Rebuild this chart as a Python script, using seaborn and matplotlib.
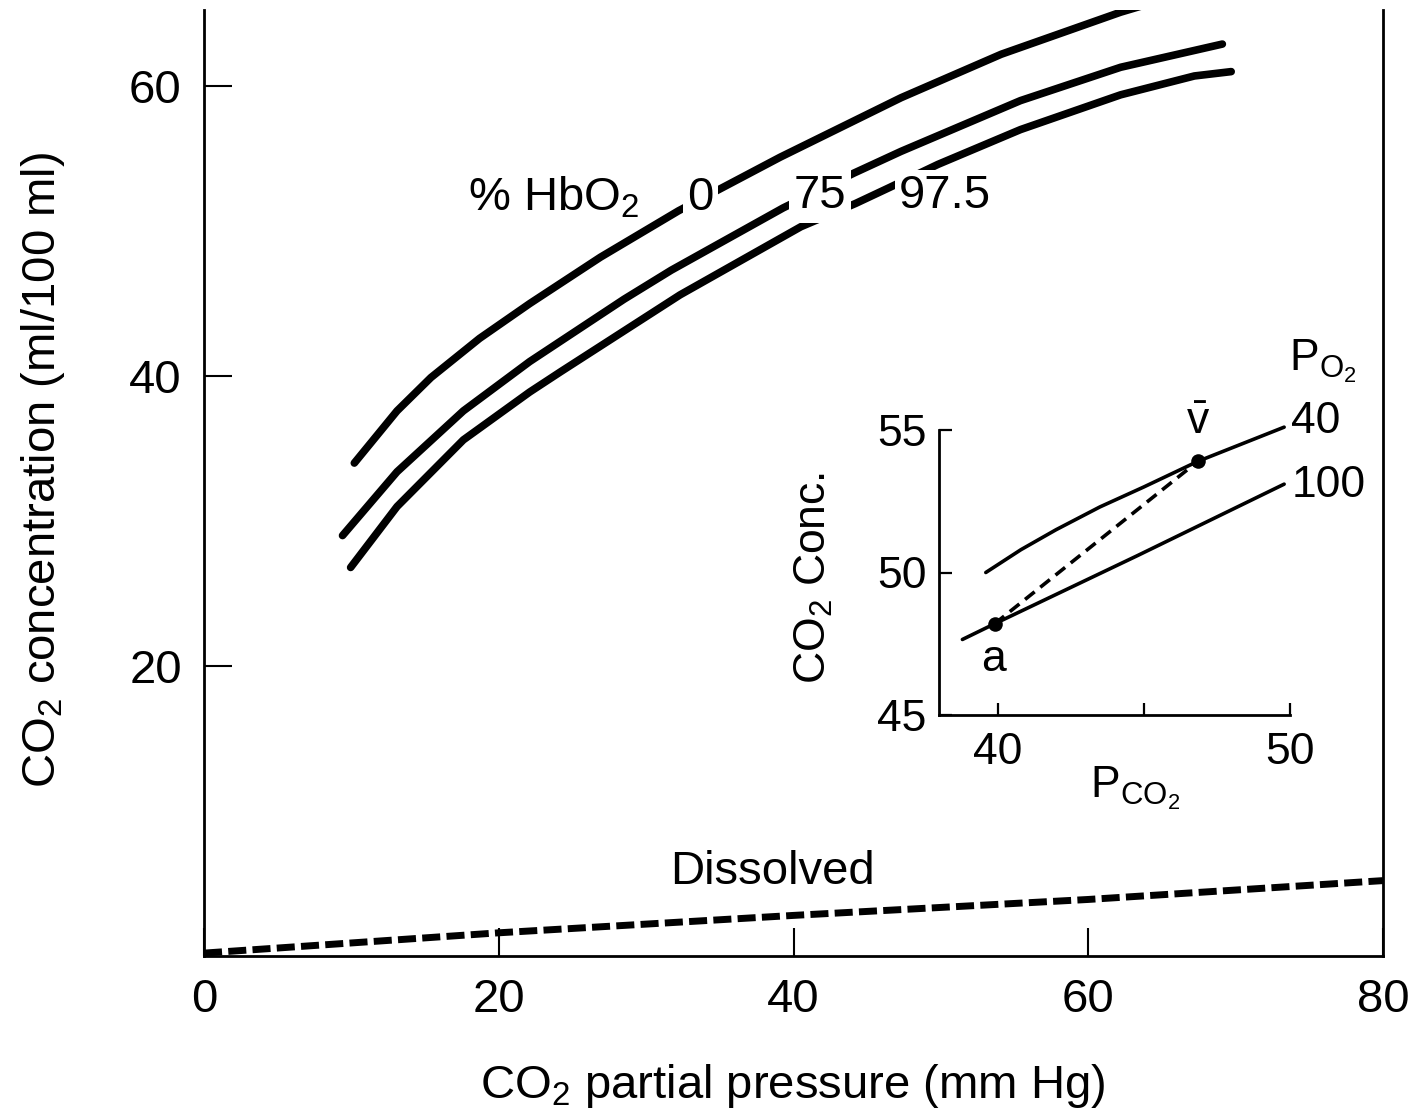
import matplotlib
matplotlib.use("Agg")
import matplotlib.pyplot as plt
import numpy as np
import pandas as pd
import seaborn as sns

# ---------------- data ----------------
# CO2 concentration (ml/100 ml) vs CO2 partial pressure (mm Hg) for % HbO2
hb0_pco2 = [10.2, 13.1, 15.4, 18.7, 22.1, 26.9, 32.2, 39.1, 47.3, 54.1, 62.2, 66.5]
hb0_conc = [34.0, 37.6, 39.9, 42.6, 45.0, 48.2, 51.4, 55.1, 59.2, 62.2, 65.1, 66.4]

hb75_pco2 = [9.4, 13.1, 17.6, 22.1, 28.5, 31.7, 39.3, 44.1, 47.3, 55.4, 62.2, 69.1]
hb75_conc = [29.0, 33.4, 37.6, 41.0, 45.3, 47.3, 51.6, 54.0, 55.5, 59.0, 61.3, 62.9]

hb975_pco2 = [9.95, 13.1, 17.6, 22.1, 24.2, 32.3, 40.5, 44.2, 46.5, 49.8, 55.4, 62.2, 67.2, 69.7]
hb975_conc = [26.8, 31.0, 35.6, 38.9, 40.3, 45.6, 50.3, 51.9, 53.0, 54.6, 57.0, 59.4, 60.7, 61.0]

dissolved_pco2 = [0, 20, 40, 60, 80]
dissolved_conc = [0.2, 1.6, 2.8, 3.9, 5.2]

hb_labels = ["0", "75", "97.5"]
main_xticks = [0, 20, 40, 60, 80]
main_yticks = [20, 40, 60]

# inset: PO2 = 40 and PO2 = 100 curves
po2_40_pco2 = [39.6, 40.8, 42.0, 43.5, 45.0, 46.85, 49.8]
po2_40_conc = [50.0, 50.8, 51.5, 52.3, 53.0, 53.9, 55.1]
po2_100_pco2 = [38.8, 39.9, 44.8, 49.8]
po2_100_conc = [47.65, 48.2, 50.6, 53.1]
av_pco2 = [39.9, 46.85]          # arterial (a) and mixed venous (v)
av_conc = [48.2, 53.9]
po2_labels = ["40", "100"]
inset_xticks = [40, 45, 50]
inset_xticklabels = ["40", "", "50"]
inset_yticks = [45, 50, 55]

# ---------------- style ----------------
sns.set_theme(style="ticks")
plt.rcParams["font.family"] = ["Liberation Sans", "DejaVu Sans"]
plt.rcParams["mathtext.fontset"] = "custom"
plt.rcParams["mathtext.rm"] = "Liberation Sans"
plt.rcParams["mathtext.it"] = "Liberation Sans:italic"
plt.rcParams["mathtext.bf"] = "Liberation Sans:bold"
plt.rcParams["text.color"] = "black"
plt.rcParams["axes.labelcolor"] = "black"
plt.rcParams["xtick.color"] = "black"
plt.rcParams["ytick.color"] = "black"

W, H = 1416, 1116
fig = plt.figure(figsize=(W / 100, H / 100), dpi=100)
fig.patch.set_facecolor("white")

# main axes: left spine x=204, right x=1383, bottom y=956, top y=10
ax = fig.add_axes([204 / W, 1 - 956 / H, (1383 - 204) / W, (956 - 10) / H])
ax.set_facecolor("white")

FS = 34
LW = 5.5

for xs, ys in [(hb0_pco2, hb0_conc), (hb75_pco2, hb75_conc), (hb975_pco2, hb975_conc)]:
    sns.lineplot(x=xs, y=ys, ax=ax, color="black", lw=LW, estimator=None,
                 sort=False, solid_capstyle="round", solid_joinstyle="round",
                 zorder=2)

sns.lineplot(x=dissolved_pco2, y=dissolved_conc, ax=ax, color="black", lw=5,
             estimator=None, sort=False, linestyle=(0, (2.6, 0.9)),
             dash_capstyle="butt", zorder=2)

ax.set_xlim(0, 80)
ax.set_ylim(0, 65.25)
ax.set_xticks(main_xticks)
ax.set_xticklabels([str(t) for t in main_xticks])
ax.set_yticks(main_yticks)
ax.set_yticklabels([str(t) for t in main_yticks])
ax.tick_params(axis="both", direction="in", length=20, width=1.5,
               labelsize=FS, colors="black")
ax.tick_params(axis="x", pad=16)
ax.tick_params(axis="y", pad=16)
for s in ["left", "bottom", "right"]:
    ax.spines[s].set_visible(True)
    ax.spines[s].set_linewidth(2.0)
    ax.spines[s].set_color("black")
ax.spines["top"].set_visible(False)

ax.set_xlabel("CO$_2$ partial pressure (mm Hg)", fontsize=FS)
ax.set_ylabel("CO$_2$ concentration (ml/100 ml)", fontsize=FS)
ax.xaxis.set_label_coords(0.499, -0.112)
ax.yaxis.set_label_coords(-0.116, 0.514)

# curve labels (white boxes interrupt the curves)
bbox = dict(facecolor="white", edgecolor="none", pad=3)
ax.text(23.7, 52.3, "% HbO$_2$", fontsize=FS, ha="center", va="center", zorder=3)
ax.text(33.7, 52.3, hb_labels[0], fontsize=FS, ha="center", va="center",
        bbox=bbox, zorder=3)
ax.text(41.8, 52.4, hb_labels[1], fontsize=FS, ha="center", va="center",
        bbox=bbox, zorder=3)
ax.text(50.3, 52.4, hb_labels[2], fontsize=FS, ha="center", va="center",
        bbox=bbox, zorder=3)
ax.text(38.6, 5.8, "Dissolved", fontsize=FS, ha="center", va="center", zorder=3)

# ---------------- inset ----------------
iax = fig.add_axes([939 / W, 1 - 715 / H, (1290 - 939) / W, (715 - 430) / H])
iax.patch.set_alpha(0)
ILW = 2.6
sns.lineplot(x=po2_40_pco2, y=po2_40_conc, ax=iax, color="black", lw=ILW,
             estimator=None, sort=False, clip_on=False, solid_joinstyle="round")
sns.lineplot(x=po2_100_pco2, y=po2_100_conc, ax=iax, color="black", lw=ILW,
             estimator=None, sort=False, clip_on=False, solid_joinstyle="round")
sns.lineplot(x=av_pco2, y=av_conc, ax=iax, color="black", lw=ILW,
             estimator=None, sort=False, linestyle=(0, (3.4, 2.0)), clip_on=False)
sns.scatterplot(x=av_pco2, y=av_conc, ax=iax, color="black", s=110,
                edgecolor="black", linewidth=0, zorder=4, clip_on=False)

iax.set_xlim(38.0, 50.0)
iax.set_ylim(45, 55)
iax.set_xticks(inset_xticks)
iax.set_xticklabels(inset_xticklabels)
iax.set_yticks(inset_yticks)
iax.set_yticklabels([str(t) for t in inset_yticks])
IFS = 32
iax.tick_params(axis="both", direction="in", length=9, width=1.6,
                labelsize=IFS, colors="black")
iax.tick_params(axis="x", pad=12)
iax.tick_params(axis="y", pad=9)
for s in ["left", "bottom"]:
    iax.spines[s].set_linewidth(2.0)
    iax.spines[s].set_color("black")
for s in ["top", "right"]:
    iax.spines[s].set_visible(False)

iax.set_xlabel("P$_{\\mathrm{CO}_2}$", fontsize=IFS)
iax.set_ylabel("CO$_2$ Conc.", fontsize=IFS)
iax.xaxis.set_label_coords(0.558, -0.175)
iax.yaxis.set_label_coords(-0.296, 0.48)

iax.text(av_pco2[0] - 0.05, 46.95, "a", fontsize=IFS, ha="center", va="center")
iax.text(av_pco2[1], 55.25, "$\\bar{\\mathrm{v}}$", fontsize=IFS, ha="center",
         va="center")
iax.text(50.05, 55.3, po2_labels[0], fontsize=IFS, ha="left", va="center")
iax.text(50.05, 53.05, po2_labels[1], fontsize=IFS, ha="left", va="center")
iax.text(49.95, 57.4, "P$_{\\mathrm{O}_2}$", fontsize=IFS, ha="left", va="center")

fig.savefig("out.png", dpi=100, facecolor="white")
